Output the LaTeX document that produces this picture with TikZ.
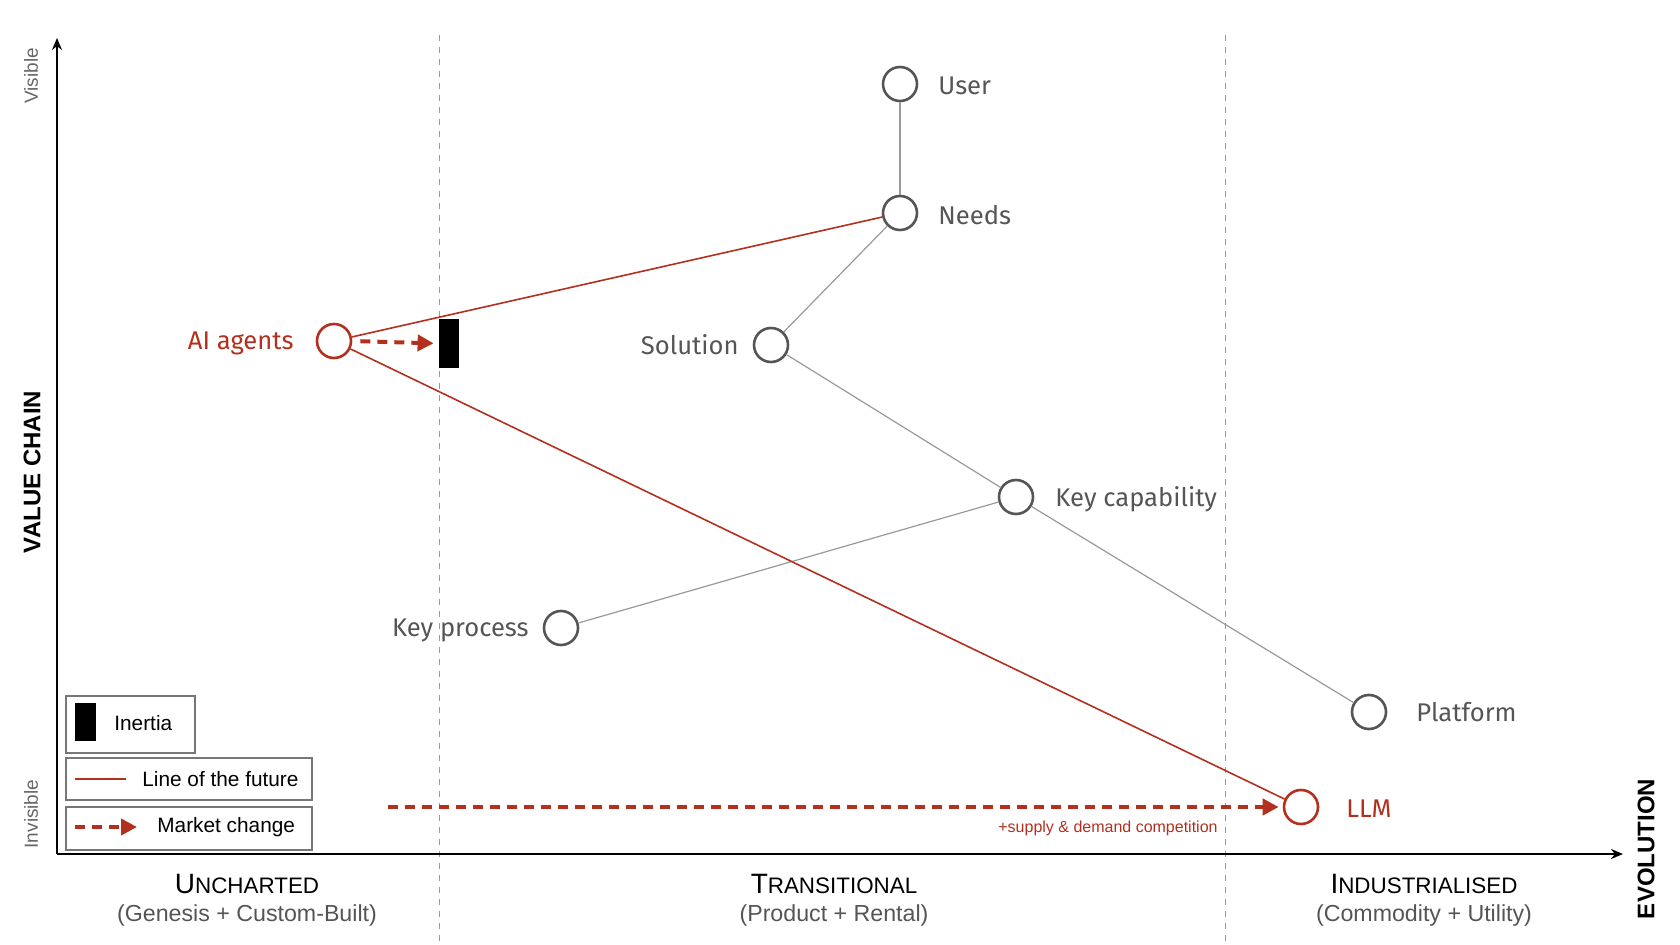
\documentclass[tikz,border=0pt]{standalone}
\usepackage{fontspec}
\setmainfont{Liberation Sans}
\newfontfamily\hand{Fira Sans}
\usetikzlibrary{arrows.meta}
\definecolor{wred}{HTML}{B3301F}
\definecolor{wgray}{HTML}{555555}
\definecolor{lgray}{HTML}{999999}
\begin{document}
\begin{tikzpicture}[x=0.5pt,y=-0.5pt,
  comp/.style={circle, draw=wgray, line width=1.3pt, minimum size=17pt, inner sep=0pt, fill=white},
  rcomp/.style={comp, draw=wred},
  lbl/.style={font=\hand\fontsize{12.8}{14}\selectfont, text=wgray, inner sep=0pt},
  rlbl/.style={lbl, text=wred},
  link/.style={draw=lgray, line width=0.6pt},
  future/.style={draw=wred, line width=0.8pt},
  market/.style={draw=wred, line width=2pt, dash pattern=on 5pt off 3.5pt, -{Triangle[length=8pt,width=8pt]}},
  region/.style={draw=lgray, line width=0.5pt, dash pattern=on 3pt off 3pt},
  axis/.style={line width=1.2pt, -{Stealth[length=6pt,width=5pt]}},
  legbox/.style={draw=wgray!80, line width=0.8pt, inner sep=0pt, anchor=north west},
  legtxt/.style={font=\fontsize{10.4}{12}\selectfont, anchor=west, inner sep=0pt},
  ttl/.style={font=\fontsize{14}{16}\selectfont, inner sep=0pt},
  sub/.style={font=\fontsize{11.6}{14}\selectfont, text=wgray, inner sep=0pt}
]
\useasboundingbox (0,0) rectangle (1680,945);
% region separators
\coordinate (r1t) at (439,35); \coordinate (r1b) at (439,945);
\coordinate (r2t) at (1225,35); \coordinate (r2b) at (1225,945);
\draw[region] (r1t) -- (r1b);
\draw[region] (r2t) -- (r2b);
% axes
\coordinate (origin) at (57,854);
\coordinate (ytop) at (57,38);
\coordinate (xend) at (1623,854);
\draw[axis] (origin) -- (ytop);
\draw[axis] (origin) -- (xend);
\node[rotate=90, font=\fontsize{9.5}{11}\selectfont, text=wgray!90, inner sep=0pt] (vis) at (31,76) {Visible};
\node[rotate=90, font=\fontsize{9.5}{11}\selectfont, text=wgray!90, inner sep=0pt] (invis) at (31,814) {Invisible};
\node[rotate=90, font=\bfseries\fontsize{12}{14}\selectfont, inner sep=0pt] (vc) at (32,472) {VALUE CHAIN};
\node[rotate=90, font=\bfseries\fontsize{12}{14}\selectfont, inner sep=0pt] (evo) at (1646,849) {EVOLUTION};
% region titles
\node[ttl] (t1) at (247,884) {U{\fontsize{11.2}{14}\selectfont NCHARTED}};
\node[sub] (s1) at (247,915) {(Genesis + Custom-Built)};
\node[ttl] (t2) at (834,884) {T{\fontsize{11.2}{14}\selectfont RANSITIONAL}};
\node[sub] (s2) at (834,915) {(Product + Rental)};
\node[ttl] (t3) at (1424,884) {I{\fontsize{11.2}{14}\selectfont NDUSTRIALISED}};
\node[sub] (s3) at (1424,915) {(Commodity + Utility)};
% components
\node[comp] (user) at (900,84) {};
\node[comp] (needs) at (900,213) {};
\node[comp] (sol) at (771,345) {};
\node[comp] (cap) at (1016,497) {};
\node[comp] (proc) at (561,628) {};
\node[comp] (plat) at (1369,712) {};
\node[rcomp] (llm) at (1301,807) {};
\node[rcomp] (agents) at (334,341) {};
\node[lbl, anchor=west] (userl) at (938,86) {User};
\node[lbl, anchor=west] (needsl) at (938,215) {Needs};
\node[lbl, anchor=east] (soll) at (739,345) {Solution};
\node[lbl, anchor=west] (capl) at (1055,499) {Key capability};
\node[lbl, anchor=east] (procl) at (529,630) {Key process};
\node[lbl, anchor=west] (platl) at (1416,712) {Platform};
\node[rlbl, anchor=west] (llml) at (1346,809) {LLM};
\node[rlbl, anchor=east] (agentsl) at (294,343) {AI agents};
% links
\draw[link] (user) -- (needs);
\draw[link] (needs) -- (sol);
\draw[link] (sol) -- (cap);
\draw[link] (cap) -- (proc);
\draw[link] (cap) -- (plat);
\draw[future] (agents) -- (needs);
\draw[future] (agents) -- (llm);
% inertia
\node[fill=black, minimum width=10pt, minimum height=24.5pt, inner sep=0pt] (inertia) at (449,343.5) {};
\draw[market, shorten <=4pt, shorten >=2.5pt] (agents.east) -- (inertia.west);
\coordinate (mstart) at (388,807);
\draw[market, shorten >=2pt] (mstart) -- (llm.west);
\node[font=\fontsize{8}{10}\selectfont, text=wred, anchor=east, inner sep=0pt] (sd) at (1218,828) {+supply \& demand competition};
% legend
\node[legbox, minimum width=64.5pt, minimum height=28.5pt] (leg1) at (65,695) {};
\node[fill=black, minimum width=10.5pt, minimum height=19pt, inner sep=0pt] (leginert) at (85.5,722) {};
\node[legtxt] (leg1t) at (114,723) {Inertia};
\node[legbox, minimum width=123pt, minimum height=21pt] (leg2) at (65,757) {};
\coordinate (lf1) at (75,779); \coordinate (lf2) at (126,779);
\draw[future] (lf1) -- (lf2);
\node[legtxt] (leg2t) at (142,779) {Line of the future};
\node[legbox, minimum width=123pt, minimum height=21.5pt] (leg3) at (65,806) {};
\coordinate (lm1) at (75,827); \coordinate (lm2) at (137,827);
\draw[market] (lm1) -- (lm2);
\node[legtxt] (leg3t) at (157,827) {Market change};
\end{tikzpicture}
\end{document}
